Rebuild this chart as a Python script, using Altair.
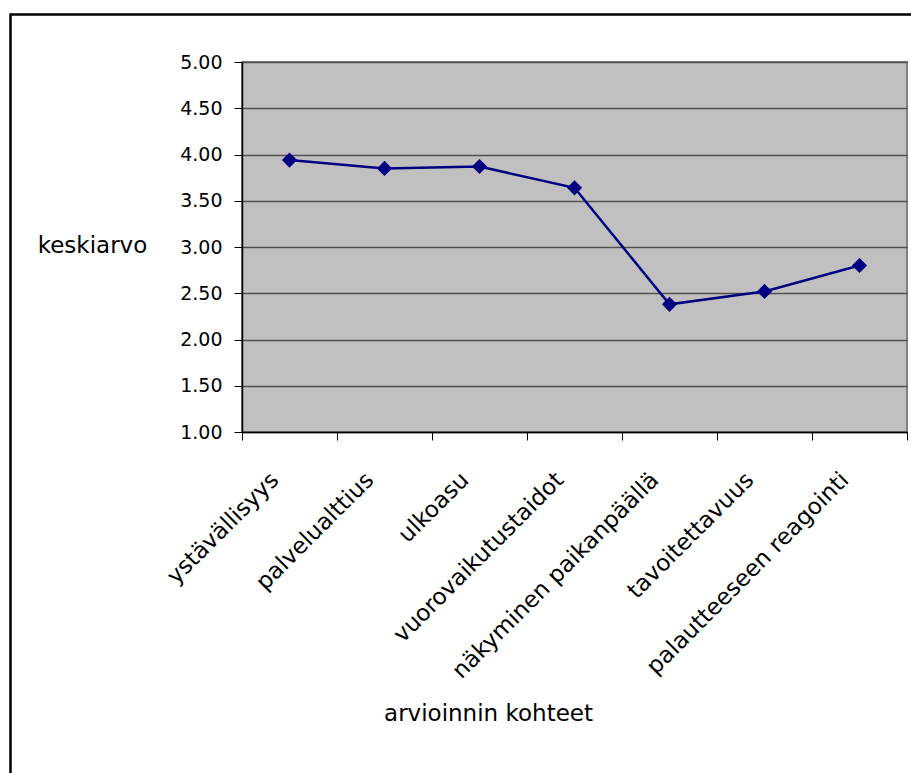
import altair as alt
import pandas as pd

# Evaluated items and their mean scores
kohteet = [
    "ystävällisyys",
    "palvelualttius",
    "ulkoasu",
    "vuorovaikutustaidot",
    "näkyminen paikanpäällä",
    "tavoitettavuus",
    "palautteeseen reagointi",
]
keskiarvot = [3.94, 3.85, 3.87, 3.64, 2.38, 2.52, 2.80]
y_ticks = [1.0, 1.5, 2.0, 2.5, 3.0, 3.5, 4.0, 4.5, 5.0]

df = pd.DataFrame({"kohde": kohteet, "keskiarvo": keskiarvot})

FONT = "DejaVu Sans"
NAVY = "#000080"

x_enc = alt.X(
    "kohde:N",
    sort=kohteet,
    bandPosition=0.5,
    scale=alt.Scale(type="band", paddingInner=0, paddingOuter=0),
    axis=alt.Axis(
        title="arvioinnin kohteet",
        titleFont=FONT,
        titleFontSize=23,
        titleFontWeight="normal",
        titleColor="black",
        titleX=246,
        titleY=281,
        titleAlign="center",
        titleBaseline="middle",
        labelFont=FONT,
        labelFontSize=23,
        labelColor="black",
        labelAngle=-45,
        labelAlign="right",
        labelBaseline="middle",
        labelOffset=-15,
        labelPadding=36,
        labelLimit=0,
        tickBand="extent",
        tickSize=8,
        tickColor="black",
        domainColor="black",
        domainWidth=1.5,
        grid=False,
        labelOverlap=False,
    ),
)

y_enc = alt.Y(
    "keskiarvo:Q",
    scale=alt.Scale(domain=[1, 5], nice=False, zero=False),
    axis=alt.Axis(
        title="keskiarvo",
        titleFont=FONT,
        titleFontSize=23,
        titleFontWeight="normal",
        titleColor="black",
        titleAngle=0,
        titleX=-150,
        titleY=183,
        titleAlign="center",
        titleBaseline="middle",
        values=y_ticks,
        format=".2f",
        labelFont=FONT,
        labelFontSize=19,
        labelColor="black",
        labelPadding=12,
        tickSize=8,
        tickColor="black",
        domainColor="black",
        domainWidth=1.5,
        grid=True,
        gridColor="#505050",
        gridWidth=1.5,
    ),
)

base = alt.Chart(df)

line = base.mark_line(color=NAVY, strokeWidth=2.5).encode(x=x_enc, y=y_enc)
points = base.mark_point(
    shape="diamond", filled=True, color=NAVY, size=230, opacity=1
).encode(x=x_enc, y=y_enc)

# Outer frame around the chart (top and left edges)
frame_df = pd.DataFrame({"k": [0]})
frame_top = alt.Chart(frame_df).mark_rule(color="black", strokeWidth=2.5).encode(
    x=alt.value(-232), x2=alt.value(700), y=alt.value(-47.5)
)
frame_left = alt.Chart(frame_df).mark_rule(color="black", strokeWidth=2.5).encode(
    x=alt.value(-231.5), y=alt.value(-48.5), y2=alt.value(730)
)

chart = (
    alt.layer(frame_top, frame_left, line, points)
    .properties(
        width=665,
        height=370,
        autosize=alt.AutoSizeParams(type="none"),
        padding={"left": 242, "top": 62, "right": 4, "bottom": 341},
        background="white",
    )
    .configure_view(fill="#C0C0C0", stroke="#808080", strokeWidth=2)
)

chart.save("out.html", embed_options={"renderer": "svg", "actions": False})
